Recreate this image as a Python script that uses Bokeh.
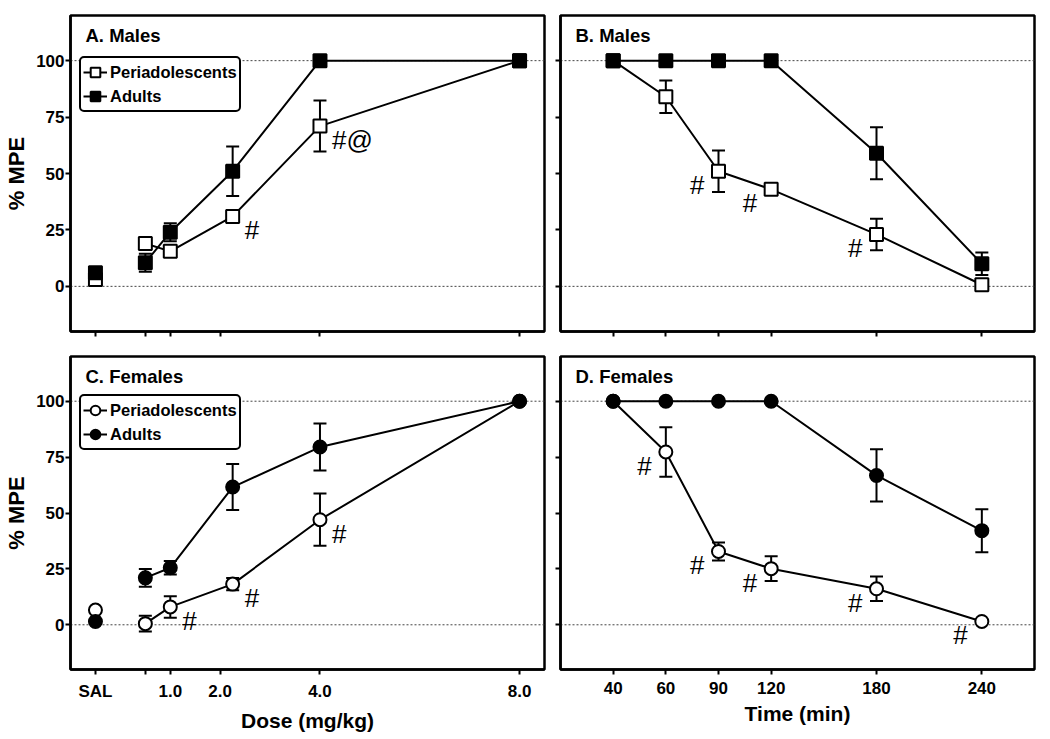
from bokeh.plotting import figure
from bokeh.models import (ColumnDataSource, Whisker, TeeHead, Span, Label, LabelSet,
                          Legend, LegendItem, FixedTicker, Range1d)
from bokeh.core.properties import value
from bokeh.layouts import row, column
from bokeh.embed import file_html
from bokeh.resources import INLINE

FONT = "Liberation Sans"

# ---------------- data ----------------
dose_x = [-0.5, 0.5, 1.0, 2.25, 4.0, 8.0]          # SAL plotted at -0.5
dose_ticks = [-0.5, 0.5, 1.0, 2.0, 4.0, 8.0]
dose_tick_labels = ["SAL", "", "1.0", "2.0", "4.0", "8.0"]

time_labels = ["40", "60", "90", "120", "180", "240"]
time_pos = [1, 2, 3, 4, 6, 8]

y_ticks = [0, 25, 50, 75, 100]

males_dose_peri = [3, 19, 15.5, 31, 71, 100]
males_dose_peri_sem = [0, 0, 0, 0, 11.3, 0]
males_dose_adult = [6, 10.5, 24, 51, 100, 100]
males_dose_adult_sem = [0, 4, 4, 11, 0, 0]
males_dose_sig = ["", "", "", "#", "#@", ""]

males_time_peri = [100, 84, 51, 43, 23, 0.7]
males_time_peri_sem = [0, 7.2, 9.2, 0, 7, 0]
males_time_adult = [100, 100, 100, 100, 59, 10]
males_time_adult_sem = [0, 0, 0, 0, 11.5, 5]
males_time_sig = ["", "", "#", "#", "#", ""]

females_dose_peri = [6.6, 0.5, 8, 18.2, 47, 100]
females_dose_peri_sem = [0, 3.5, 4.8, 2.7, 11.7, 0]
females_dose_adult = [1.5, 21, 25.5, 61.6, 79.5, 100]
females_dose_adult_sem = [0, 4, 3, 10.3, 10.5, 0]
females_dose_sig = ["", "", "#", "#", "#", ""]

females_time_peri = [100, 77.3, 32.8, 25.1, 16.1, 1.5]
females_time_peri_sem = [0, 11.1, 4, 5.5, 5.5, 0]
females_time_adult = [100, 100, 100, 100, 66.8, 42.1]
females_time_adult_sem = [0, 0, 0, 0, 11.7, 9.6]
females_time_sig = ["", "#", "#", "#", "#", "#"]


def tick_style(ax):
    ax.axis_line_width = 2.5
    ax.axis_line_color = "black"
    ax.major_tick_line_width = 2
    ax.major_tick_line_color = "black"
    ax.major_tick_out = 5
    ax.major_tick_in = 0
    ax.minor_tick_line_width = 2
    ax.minor_tick_line_color = "black"
    ax.minor_tick_out = 5
    ax.minor_tick_in = 0
    ax.major_label_text_font = FONT
    ax.major_label_text_font_style = "bold"
    ax.major_label_text_color = "black"
    ax.major_label_text_font_size = "17px"
    ax.axis_label_text_font = FONT
    ax.axis_label_text_font_style = "bold"
    ax.axis_label_text_color = "black"


def make_panel(title, xr, ticks, tick_labels, x_series, peri, peri_sem, adult, adult_sem,
               sig, sig_side, marker, width, height, borders, show_xlabels, show_ylabels,
               xlabel, legend, line_start):
    bl, br, bt, bb = borders
    p = figure(width=width, height=height, x_range=Range1d(*xr), y_range=Range1d(-20, 120),
               output_backend="svg", toolbar_location=None,
               min_border_left=bl, min_border_right=br, min_border_top=bt, min_border_bottom=bb,
               background_fill_color="white", border_fill_color="white")
    p.grid.visible = False
    p.outline_line_color = "black"
    p.outline_line_width = 2.5
    p.outline_line_alpha = 1

    tick_style(p.xaxis[0])
    tick_style(p.yaxis[0])

    if show_xlabels:
        lab_t = [t for t, l in zip(ticks, tick_labels) if l]
        unl_t = [t for t, l in zip(ticks, tick_labels) if not l]
        p.xaxis.ticker = FixedTicker(ticks=lab_t, minor_ticks=unl_t)
        p.xaxis.major_label_overrides = {t: l for t, l in zip(ticks, tick_labels) if l}
        p.xaxis.major_label_standoff = 7
        p.xaxis.axis_label = xlabel
        p.xaxis.axis_label_text_font_size = "21px"
        p.xaxis.axis_label_standoff = 5
    else:
        p.xaxis.ticker = FixedTicker(ticks=[], minor_ticks=ticks)

    if show_ylabels:
        p.yaxis.ticker = FixedTicker(ticks=y_ticks)
        p.yaxis.major_label_standoff = 1
        p.yaxis.axis_label = "% MPE"
        p.yaxis.axis_label_text_font_size = "22px"
        p.yaxis.axis_label_standoff = 4
    else:
        p.yaxis.ticker = FixedTicker(ticks=[], minor_ticks=y_ticks)

    for loc in (0, 100):
        p.add_layout(Span(location=loc, dimension="width", line_color="#444444",
                          line_width=1, line_dash="2 2", level="underlay"))

    def whisk(y, sem):
        xs = [xi for xi, e in zip(x_series, sem) if e > 0]
        lo = [yi - e for yi, e in zip(y, sem) if e > 0]
        hi = [yi + e for yi, e in zip(y, sem) if e > 0]
        src = ColumnDataSource(dict(x=xs, lo=lo, hi=hi))
        w = Whisker(source=src, base="x", lower="lo", upper="hi", dimension="height",
                    line_color="black", line_width=2, level="underlay",
                    upper_head=TeeHead(size=13, line_color="black", line_width=2),
                    lower_head=TeeHead(size=13, line_color="black", line_width=2))
        p.add_layout(w)

    whisk(peri, peri_sem)
    whisk(adult, adult_sem)

    s = line_start
    src_p = ColumnDataSource(dict(x=x_series, y=peri))
    src_a = ColumnDataSource(dict(x=x_series, y=adult))
    src_pl = ColumnDataSource(dict(x=x_series[s:], y=peri[s:]))
    src_al = ColumnDataSource(dict(x=x_series[s:], y=adult[s:]))
    lp = p.line("x", "y", source=src_pl, line_color="black", line_width=2)
    la = p.line("x", "y", source=src_al, line_color="black", line_width=2)
    sp = p.scatter("x", "y", source=src_p, marker=marker, size=13, line_color="black",
                   line_width=2, fill_color="white")
    sa = p.scatter("x", "y", source=src_a, marker=marker, size=13, line_color="black",
                   line_width=2, fill_color="black")

    sig_src = ColumnDataSource(dict(
        x=[xi for xi, t in zip(x_series, sig) if t],
        y=[yi for yi, t in zip(peri, sig) if t],
        sig=[t for t in sig if t]))
    if sig_side == "right":
        ls = LabelSet(x="x", y="y", text="sig", source=sig_src, x_offset=12, y_offset=-14,
                      text_align="left", text_baseline="middle")
    else:
        ls = LabelSet(x="x", y="y", text="sig", source=sig_src, x_offset=-14, y_offset=-14,
                      text_align="right", text_baseline="middle")
    ls.text_font = value(FONT)
    ls.text_font_size = value("26px")
    ls.text_color = "black"
    p.add_layout(ls)

    p.add_layout(Label(x=xr[0], y=120, x_offset=15, y_offset=-20, text=title,
                       text_font=FONT, text_font_style="bold", text_font_size="18.5px",
                       text_baseline="middle", text_align="left", text_color="black"))

    if legend:
        leg = Legend(items=[LegendItem(label="Periadolescents", renderers=[lp, sp]),
                            LegendItem(label="Adults", renderers=[la, sa])],
                     location=(9, 219), margin=0, padding=2, spacing=-6,
                     glyph_width=24, glyph_height=24, label_standoff=3, label_height=20,
                     label_text_font=FONT, label_text_font_style="bold",
                     label_text_font_size="16.5px", label_text_color="black",
                     border_line_color="black", border_line_width=2, border_line_alpha=1,
                     background_fill_color="white", background_fill_alpha=1)
        if "border_radius" in Legend.properties():
            leg.border_radius = 5
        p.add_layout(leg)
    return p


TOP_H, BOT_H = 343, 391
LEFT_W, RIGHT_W = 552, 496

pA = make_panel("A. Males", (-1, 8.5), dose_ticks, dose_tick_labels, dose_x,
                males_dose_peri, males_dose_peri_sem, males_dose_adult, males_dose_adult_sem,
                males_dose_sig, "right", "square", LEFT_W, TOP_H, (70, 8, 15, 12),
                False, True, "", True, 1)
pB = make_panel("B. Males", (0, 9), time_pos, time_labels, time_pos,
                males_time_peri, males_time_peri_sem, males_time_adult, males_time_adult_sem,
                males_time_sig, "left", "square", RIGHT_W, TOP_H, (8, 14, 15, 12),
                False, False, "", False, 0)
pC = make_panel("C. Females", (-1, 8.5), dose_ticks, dose_tick_labels, dose_x,
                females_dose_peri, females_dose_peri_sem, females_dose_adult,
                females_dose_adult_sem, females_dose_sig, "right", "circle",
                LEFT_W, BOT_H, (70, 8, 13, 62), True, True, "Dose (mg/kg)", True, 1)
pD = make_panel("D. Females", (0, 9), time_pos, time_labels, time_pos,
                females_time_peri, females_time_peri_sem, females_time_adult,
                females_time_adult_sem, females_time_sig, "left", "circle",
                RIGHT_W, BOT_H, (8, 14, 13, 62), True, False, "Time (min)", False, 0)

layout = column(row(pA, pB), row(pC, pD))
open("out.html", "w").write(file_html(layout, INLINE))
